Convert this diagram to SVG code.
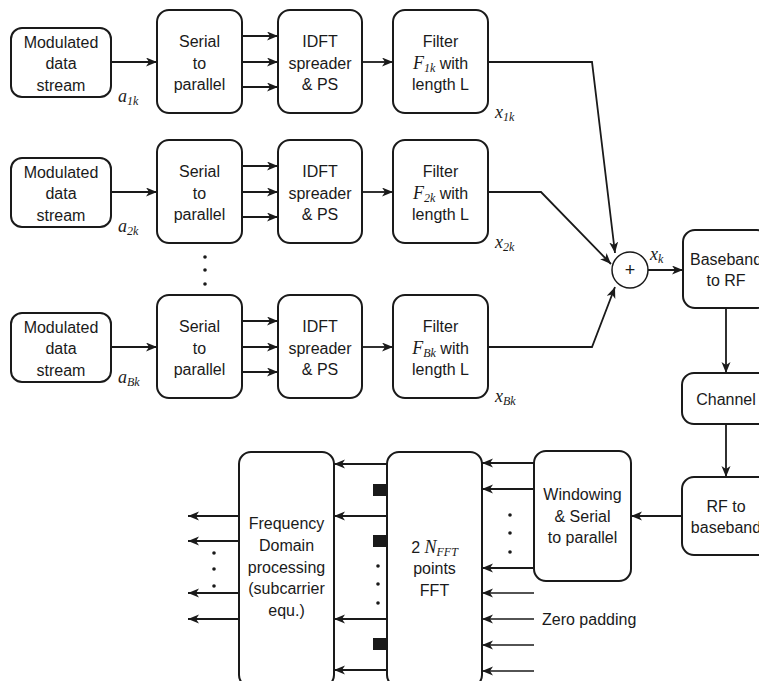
<svg xmlns="http://www.w3.org/2000/svg" width="759" height="681" viewBox="0 0 759 681">
<style>
.box{fill:#fff;stroke:#1a1a1a;stroke-width:2}
.t{font-family:"Liberation Sans",Arial,sans-serif;font-size:16px;fill:#1a1a1a;text-anchor:middle}
.m{font-family:"Liberation Serif","Times New Roman",serif;font-style:italic;font-size:18px;fill:#1a1a1a}
.sub{font-size:12px}
.c{fill:none;stroke:#1a1a1a;stroke-width:1.8;marker-end:url(#ah)}
.thin{fill:none;stroke:#1a1a1a;stroke-width:1.3;marker-end:url(#ah)}
.dot{fill:#1a1a1a}
</style>
<defs>
<marker id="ah" markerUnits="userSpaceOnUse" markerWidth="12" markerHeight="10" refX="11" refY="4.5" orient="auto">
<path d="M0,0 L11,4.5 L0,9 L3,4.5 Z" fill="#1a1a1a"/>
</marker>
</defs>
<rect width="759" height="681" fill="#fff"/>

<!-- Row 1 -->
<g id="mod1"><rect class="box" x="11" y="28" width="100" height="69" rx="11"/>
<text class="t" x="61" y="47.5">Modulated</text><text class="t" x="61" y="69">data</text><text class="t" x="61" y="90.5">stream</text></g>
<g id="sp1"><rect class="box" x="157" y="10" width="85" height="103" rx="12"/>
<text class="t" x="199.5" y="47">Serial</text><text class="t" x="199.5" y="68.5">to</text><text class="t" x="199.5" y="90">parallel</text></g>
<g id="idft1"><rect class="box" x="278" y="10" width="84" height="103" rx="12"/>
<text class="t" x="320" y="47">IDFT</text><text class="t" x="320" y="68.5">spreader</text><text class="t" x="320" y="90">&amp; PS</text></g>
<g id="filt1"><rect class="box" x="393" y="10" width="95" height="103" rx="12"/>
<text class="t" x="440.5" y="47">Filter</text>
<text class="t" x="440.5" y="68.5"><tspan class="m">F</tspan><tspan class="m sub" dy="3">1k</tspan><tspan dy="-3"> with</tspan></text>
<text class="t" x="440.5" y="90">length L</text></g>

<!-- Row 2 -->
<g id="mod2"><rect class="box" x="11" y="158" width="100" height="69" rx="11"/>
<text class="t" x="61" y="177.5">Modulated</text><text class="t" x="61" y="199">data</text><text class="t" x="61" y="220.5">stream</text></g>
<g id="sp2"><rect class="box" x="157" y="140" width="85" height="103" rx="12"/>
<text class="t" x="199.5" y="177">Serial</text><text class="t" x="199.5" y="198.5">to</text><text class="t" x="199.5" y="220">parallel</text></g>
<g id="idft2"><rect class="box" x="278" y="140" width="84" height="103" rx="12"/>
<text class="t" x="320" y="177">IDFT</text><text class="t" x="320" y="198.5">spreader</text><text class="t" x="320" y="220">&amp; PS</text></g>
<g id="filt2"><rect class="box" x="393" y="140" width="95" height="103" rx="12"/>
<text class="t" x="440.5" y="177">Filter</text>
<text class="t" x="440.5" y="198.5"><tspan class="m">F</tspan><tspan class="m sub" dy="3">2k</tspan><tspan dy="-3"> with</tspan></text>
<text class="t" x="440.5" y="220">length L</text></g>

<!-- Row B -->
<g id="mod3"><rect class="box" x="11" y="313" width="100" height="69" rx="11"/>
<text class="t" x="61" y="332.5">Modulated</text><text class="t" x="61" y="354">data</text><text class="t" x="61" y="375.5">stream</text></g>
<g id="sp3"><rect class="box" x="157" y="295" width="85" height="103" rx="12"/>
<text class="t" x="199.5" y="332">Serial</text><text class="t" x="199.5" y="353.5">to</text><text class="t" x="199.5" y="375">parallel</text></g>
<g id="idft3"><rect class="box" x="278" y="295" width="84" height="103" rx="12"/>
<text class="t" x="320" y="332">IDFT</text><text class="t" x="320" y="353.5">spreader</text><text class="t" x="320" y="375">&amp; PS</text></g>
<g id="filt3"><rect class="box" x="393" y="295" width="95" height="103" rx="12"/>
<text class="t" x="440.5" y="332">Filter</text>
<text class="t" x="440.5" y="353.5"><tspan class="m">F</tspan><tspan class="m sub" dy="3">Bk</tspan><tspan dy="-3"> with</tspan></text>
<text class="t" x="440.5" y="375">length L</text></g>

<!-- Sum and RF chain -->
<g id="sum"><circle cx="630" cy="270" r="18" fill="#fff" stroke="#1a1a1a" stroke-width="1.5"/>
<text class="t" x="630" y="276" style="font-size:18px">+</text></g>
<g id="bb2rf"><rect class="box" x="683" y="230" width="86" height="78" rx="12"/>
<text class="t" x="726" y="265">Baseband</text><text class="t" x="726" y="286">to RF</text></g>
<g id="channel"><rect class="box" x="682" y="373" width="88" height="51" rx="12"/>
<text class="t" x="726" y="405">Channel</text></g>
<g id="rf2bb"><rect class="box" x="682" y="477" width="88" height="78" rx="12"/>
<text class="t" x="726" y="512">RF to</text><text class="t" x="726" y="533">baseband</text></g>
<g id="window"><rect class="box" x="534" y="451" width="97" height="130" rx="12"/>
<text class="t" x="582.5" y="500">Windowing</text><text class="t" x="582.5" y="522">&amp; Serial</text><text class="t" x="582.5" y="543">to parallel</text></g>
<g id="fft"><rect class="box" x="387" y="452" width="95" height="235" rx="12"/>
<text class="t" x="434.5" y="553">2 <tspan class="m">N</tspan><tspan class="m sub" dy="3">FFT</tspan></text>
<text class="t" x="434.5" y="574">points</text><text class="t" x="434.5" y="596">FFT</text>
<rect x="373" y="484" width="14" height="12" fill="#1a1a1a"/>
<rect x="373" y="535" width="14" height="12" fill="#1a1a1a"/>
<rect x="373" y="638" width="14" height="12" fill="#1a1a1a"/></g>
<g id="fdp"><rect class="box" x="239" y="452" width="95" height="235" rx="12"/>
<text class="t" x="286.5" y="529">Frequency</text><text class="t" x="286.5" y="551">Domain</text><text class="t" x="286.5" y="573">processing</text><text class="t" x="286.5" y="594">(subcarrier</text><text class="t" x="286.5" y="616">equ.)</text></g>

<!-- Labels -->
<g id="labels">
<text class="m" x="118" y="102">a<tspan class="sub" dy="3">1k</tspan></text>
<text class="m" x="118" y="232">a<tspan class="sub" dy="3">2k</tspan></text>
<text class="m" x="118" y="383">a<tspan class="sub" dy="3">Bk</tspan></text>
<text class="m" x="495" y="118">x<tspan class="sub" dy="3">1k</tspan></text>
<text class="m" x="495" y="248">x<tspan class="sub" dy="3">2k</tspan></text>
<text class="m" x="495" y="402">x<tspan class="sub" dy="3">Bk</tspan></text>
<text class="m" x="650" y="260">x<tspan class="sub" dy="3">k</tspan></text>
<text class="t" x="542" y="625" style="text-anchor:start">Zero padding</text>
</g>

<!-- Connectors -->
<g id="connectors">
<path class="c" d="M111,62 H157"/>
<path class="c" d="M242,36 H278"/><path class="c" d="M242,62 H278"/><path class="c" d="M242,87 H278"/>
<path class="c" d="M362,62 H393"/>
<path class="c" d="M111,192 H157"/>
<path class="c" d="M242,166 H278"/><path class="c" d="M242,192 H278"/><path class="c" d="M242,217 H278"/>
<path class="c" d="M362,192 H393"/>
<path class="c" d="M111,347 H157"/>
<path class="c" d="M242,321 H278"/><path class="c" d="M242,347 H278"/><path class="c" d="M242,372 H278"/>
<path class="c" d="M362,347 H393"/>
<path class="c" d="M488,62 H592 L615,253"/>
<path class="c" d="M488,192 H541 L611,264"/>
<path class="c" d="M488,347 H592 L615,287"/>
<path class="c" d="M648,270 H683"/>
<path class="c" d="M726,308 V373"/>
<path class="c" d="M726,424 V477"/>
<path class="c" d="M682,516 H631"/>
<path class="c" d="M534,463 H482"/><path class="c" d="M534,489 H482"/><path class="c" d="M534,568 H482"/>
<path class="thin" d="M534,593 H482"/><path class="thin" d="M534,619 H482"/><path class="thin" d="M534,645 H482"/><path class="thin" d="M534,671 H482"/>
<path class="c" d="M387,464 H334"/><path class="c" d="M387,516 H334"/><path class="c" d="M387,619 H334"/><path class="c" d="M387,670 H334"/>
<path class="c" d="M239,516 H188"/><path class="c" d="M239,541 H188"/><path class="c" d="M239,593 H188"/><path class="c" d="M239,619 H188"/>
</g>
<g id="dots">
<circle class="dot" cx="205" cy="257" r="1.8"/><circle class="dot" cx="205" cy="270" r="1.8"/><circle class="dot" cx="205" cy="284" r="1.8"/>
<circle class="dot" cx="510" cy="515" r="1.8"/><circle class="dot" cx="510" cy="533" r="1.8"/><circle class="dot" cx="510" cy="552" r="1.8"/>
<circle class="dot" cx="378" cy="566" r="1.8"/><circle class="dot" cx="378" cy="584" r="1.8"/><circle class="dot" cx="378" cy="603" r="1.8"/>
<circle class="dot" cx="214" cy="553" r="1.8"/><circle class="dot" cx="214" cy="569" r="1.8"/><circle class="dot" cx="214" cy="586" r="1.8"/>
</g>
</svg>
